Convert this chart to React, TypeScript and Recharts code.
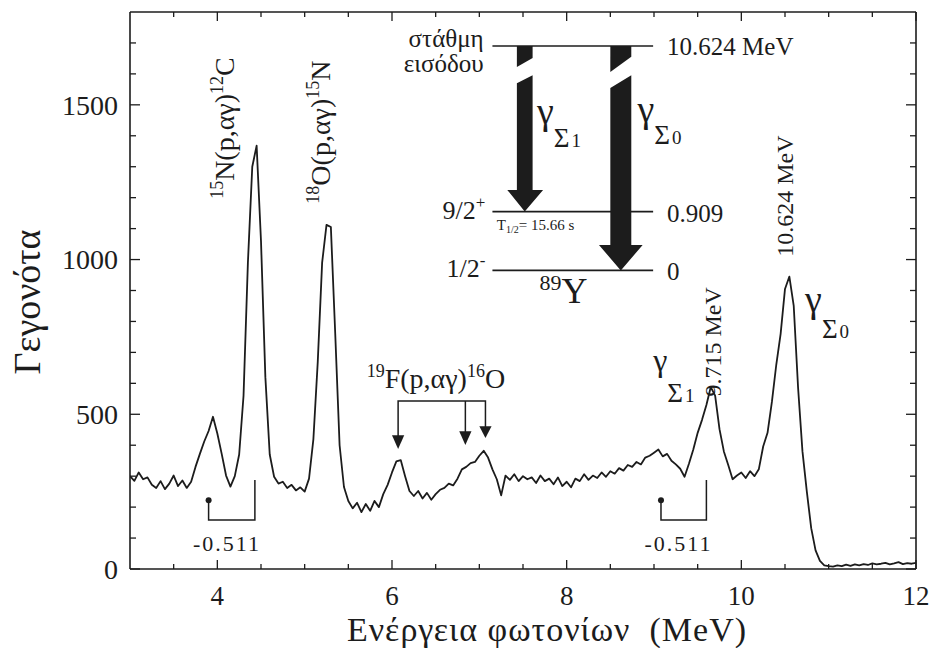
import React from 'react'
import { LineChart, Line, XAxis, YAxis, ReferenceLine, Customized } from 'recharts'

// photon energy of each channel (MeV)
const ENERGY = [
  3.0, 3.05, 3.1, 3.15, 3.2, 3.25, 3.3, 3.35, 3.4, 3.45,
  3.5, 3.55, 3.6, 3.65, 3.7, 3.75, 3.8, 3.85, 3.9, 3.95,
  4.0, 4.05, 4.1, 4.15, 4.2, 4.25, 4.3, 4.35, 4.4, 4.45,
  4.5, 4.55, 4.6, 4.65, 4.7, 4.75, 4.8, 4.85, 4.9, 4.95,
  5.0, 5.05, 5.1, 5.15, 5.2, 5.25, 5.3, 5.35, 5.4, 5.45,
  5.5, 5.55, 5.6, 5.65, 5.7, 5.75, 5.8, 5.85, 5.9, 5.95,
  6.0, 6.05, 6.1, 6.15, 6.2, 6.25, 6.3, 6.35, 6.4, 6.45,
  6.5, 6.55, 6.6, 6.65, 6.7, 6.75, 6.8, 6.85, 6.9, 6.95,
  7.0, 7.05, 7.1, 7.15, 7.2, 7.25, 7.3, 7.35, 7.4, 7.45,
  7.5, 7.55, 7.6, 7.65, 7.7, 7.75, 7.8, 7.85, 7.9, 7.95,
  8.0, 8.05, 8.1, 8.15, 8.2, 8.25, 8.3, 8.35, 8.4, 8.45,
  8.5, 8.55, 8.6, 8.65, 8.7, 8.75, 8.8, 8.85, 8.9, 8.95,
  9.0, 9.05, 9.1, 9.15, 9.2, 9.25, 9.3, 9.35, 9.4, 9.45,
  9.5, 9.55, 9.6, 9.65, 9.7, 9.75, 9.8, 9.85, 9.9, 9.95,
  10.0, 10.05, 10.1, 10.15, 10.2, 10.25, 10.3, 10.35, 10.4, 10.45,
  10.5, 10.55, 10.6, 10.65, 10.7, 10.75, 10.8, 10.85, 10.9, 10.95,
  11.0, 11.05, 11.1, 11.15, 11.2, 11.25, 11.3, 11.35, 11.4, 11.45,
  11.5, 11.55, 11.6, 11.65, 11.7, 11.75, 11.8, 11.85, 11.9, 11.95,
  12.0,
]

// events per channel
const COUNTS = [
  300, 285, 312, 290, 296, 272, 262, 284, 258, 276,
  302, 268, 286, 262, 282, 330, 372, 412, 446, 492,
  438, 372, 302, 266, 300, 370, 560, 990, 1300, 1368,
  1060, 620, 370, 298, 276, 282, 262, 272, 254, 264,
  250, 292, 420, 670, 990, 1112, 1105, 760, 400, 265,
  220, 196, 214, 184, 210, 188, 220, 200, 242, 272,
  312, 348, 352, 300, 252, 236, 252, 228, 246, 224,
  242, 256, 262, 276, 270, 292, 322, 330, 342, 346,
  366, 382, 360, 322, 290, 238, 302, 288, 306, 284,
  300, 290, 296, 278, 302, 284, 292, 274, 296, 268,
  282, 264, 292, 284, 306, 288, 302, 294, 312, 298,
  316, 308, 326, 318, 336, 330, 346, 338, 360, 366,
  376, 386, 364, 372, 350, 338, 324, 298, 340, 386,
  440, 482, 530, 588, 560, 452, 380, 336, 290, 302,
  312, 294, 316, 300, 322, 396, 440, 540, 660, 760,
  905, 945, 850, 585, 380, 250, 132, 60, 26, 12,
  9, 8, 12, 9, 14, 10, 15, 12, 16, 13,
  18, 15, 17, 20, 15, 18, 22, 16, 19, 17,
  20,
]

const X_TICKS = [3.5, 4, 4.5, 5, 5.5, 6, 6.5, 7, 7.5, 8, 8.5, 9, 9.5, 10, 10.5, 11, 11.5, 12]
const X_LABELS = [4, 6, 8, 10, 12]
const Y_TICKS = [0, 100, 200, 300, 400, 500, 600, 700, 800, 900, 1000, 1100, 1200, 1300, 1400, 1500, 1600, 1700]
const Y_LABELS = [0, 500, 1000, 1500]

const X_DOMAIN: [number, number] = [3, 12]
const Y_DOMAIN: [number, number] = [0, 1800]

const W = 935
const H = 648
const MARGIN = { top: 12, right: 19, bottom: 39, left: 70 }
const Y_AXIS_W = 60
const X_AXIS_H = 40
const PLOT_LEFT = MARGIN.left + Y_AXIS_W
const PLOT_TOP = MARGIN.top
const PLOT_W = W - PLOT_LEFT - MARGIN.right
const PLOT_H = H - MARGIN.top - MARGIN.bottom - X_AXIS_H

const INK = '#1c1c1c'
const SERIF = 'Liberation Serif, DejaVu Serif, serif'

const data = ENERGY.map((e, i) => ({ energy: e, counts: COUNTS[i] }))

// data units -> pixels, same geometry as the chart's plot area
const sx = (e: number) => PLOT_LEFT + ((e - X_DOMAIN[0]) / (X_DOMAIN[1] - X_DOMAIN[0])) * PLOT_W
const sy = (c: number) => PLOT_TOP + PLOT_H - ((c - Y_DOMAIN[0]) / (Y_DOMAIN[1] - Y_DOMAIN[0])) * PLOT_H

function XTick(props: any) {
  const { x, y, payload } = props
  const v = payload.value
  const major = X_LABELS.includes(v)
  const len = major ? 9 : 5
  return (
    <g>
      <line x1={x} y1={y} x2={x} y2={y - len} stroke={INK} strokeWidth={1.3} />
      <line x1={x} y1={y - PLOT_H} x2={x} y2={y - PLOT_H + len} stroke={INK} strokeWidth={1.3} />
      {major && (
        <text x={x} y={y + 36} textAnchor="middle" fontSize={27} fontFamily={SERIF} fill={INK}>
          {v}
        </text>
      )}
    </g>
  )
}

function YTick(props: any) {
  const { x, y, payload } = props
  const v = payload.value
  const major = Y_LABELS.includes(v)
  const len = major ? 10 : 6
  return (
    <g>
      <line x1={x} y1={y} x2={x + len} y2={y} stroke={INK} strokeWidth={1.3} />
      <line x1={x + PLOT_W} y1={y} x2={x + PLOT_W - len} y2={y} stroke={INK} strokeWidth={1.3} />
      {major && (
        <text x={x - 12} y={y} dy="0.35em" textAnchor="end" fontSize={28} fontFamily={SERIF} fill={INK}>
          {v}
        </text>
      )}
    </g>
  )
}

const pts = (list: Array<[number, number]>) => list.map(([e, c]) => `${sx(e)},${sy(c)}`).join(' ')

// vertical label, (e, c) = middle of the baseline
function VLabel({ e, c, size, children }: { e: number; c: number; size: number; children: React.ReactNode }) {
  const x = sx(e)
  const y = sy(c)
  return (
    <text x={x} y={y} transform={`rotate(-90 ${x} ${y})`} textAnchor="middle" fontSize={size} fontFamily={SERIF} fill={INK}>
      {children}
    </text>
  )
}

function GammaSigma({ e, c, sub, g = 38, s = 27, d = 19, dy = 24, dx = 0 }: any) {
  return (
    <text x={sx(e)} y={sy(c)} fontSize={g} fontFamily={SERIF} fill={INK}>
      γ
      <tspan fontSize={s} dy={dy} dx={dx}>Σ</tspan>
      <tspan fontSize={d} dx={2}>{sub}</tspan>
    </text>
  )
}

// broken, thick transition arrow of the level scheme
function BrokenArrow({ xl, xr, hl, hr, top, cut, gap, base, tip }: any) {
  const mid = (xl + xr) / 2
  return (
    <g fill={INK}>
      <polygon points={pts([[xl, top], [xr, top], [xr, cut[1]], [xl, cut[0]]])} />
      <polygon
        points={pts([
          [xl, gap[0]], [xr, gap[1]], [xr, base], [hr, base], [mid, tip], [hl, base], [xl, base],
        ])}
      />
    </g>
  )
}

function Bracket511({ eL, eR, label }: { eL: number; eR: number; label: number }) {
  return (
    <g>
      <polyline points={pts([[eR, 288], [eR, 158], [eL, 158], [eL, 213]])} fill="none" stroke={INK} strokeWidth={1.5} />
      <circle cx={sx(eL)} cy={sy(222)} r={3} fill={INK} />
      <text x={sx(label)} y={sy(58)} textAnchor="middle" fontSize={22} letterSpacing={2} fontFamily={SERIF} fill={INK}>
        -0.511
      </text>
    </g>
  )
}

function DownHead({ e, base, tip }: { e: number; base: number; tip: number }) {
  return <polygon points={pts([[e - 0.07, base], [e + 0.07, base], [e, tip]])} fill={INK} />
}

function Annotations() {
  const lv = (c: number) => <line x1={sx(7.15)} x2={sx(8.99)} y1={sy(c)} y2={sy(c)} stroke={INK} strokeWidth={1.6} />
  const txt = { fontFamily: SERIF, fill: INK }
  return (
    <g>
      {/* axis titles */}
      <text x={40} y={302} transform="rotate(-90 40 302)" textAnchor="middle" fontSize={38} {...txt}>
        Γεγονότα
      </text>
      <text x={547} y={641} textAnchor="middle" fontSize={34} letterSpacing={1} {...txt}>
        Ενέργεια φωτονίων{'\u00a0\u00a0'}(MeV)
      </text>

      {/* reaction labels */}
      <VLabel e={4.19} c={1425} size={28}>
        <tspan fontSize={18} dy={-11}>15</tspan>
        <tspan dy={11}>N(p,αγ)</tspan>
        <tspan fontSize={18} dy={-11}>12</tspan>
        <tspan dy={11}>C</tspan>
      </VLabel>
      <VLabel e={5.29} c={1412} size={28}>
        <tspan fontSize={18} dy={-11}>18</tspan>
        <tspan dy={11}>O(p,αγ)</tspan>
        <tspan fontSize={18} dy={-11}>15</tspan>
        <tspan dy={11}>N</tspan>
      </VLabel>
      <text x={sx(5.71)} y={sy(585)} fontSize={28} {...txt}>
        <tspan fontSize={18} dy={-11}>19</tspan>
        <tspan dy={11}>F(p,αγ)</tspan>
        <tspan fontSize={18} dy={-11}>16</tspan>
        <tspan dy={11}>O</tspan>
      </text>

      {/* 19F bracket with three arrows */}
      <polyline points={pts([[6.07, 427], [6.07, 543], [7.07, 543], [7.07, 456]])} fill="none" stroke={INK} strokeWidth={1.5} />
      <polyline points={pts([[6.84, 543], [6.84, 440]])} fill="none" stroke={INK} strokeWidth={1.5} />
      <DownHead e={6.07} base={432} tip={388} />
      <DownHead e={6.84} base={445} tip={401} />
      <DownHead e={7.07} base={461} tip={423} />

      {/* escape peak markers */}
      <Bracket511 eL={3.9} eR={4.43} label={4.11} />
      <Bracket511 eL={9.08} eR={9.6} label={9.28} />

      {/* peak labels */}
      <VLabel e={9.77} c={734} size={24}>9.715 MeV</VLabel>
      <VLabel e={10.59} c={1205} size={24}>10.624 MeV</VLabel>
      <GammaSigma e={8.99} c={640} sub="1" g={32} dy={31} />
      <GammaSigma e={10.73} c={830} sub="0" dy={26} />

      {/* level scheme of 89Y */}
      {lv(1690)}
      {lv(1155)}
      {lv(965)}
      <text x={sx(7.05)} y={sy(1687)} textAnchor="end" fontSize={25} {...txt}>στάθμη</text>
      <text x={sx(7.05)} y={sy(1606)} textAnchor="end" fontSize={25} {...txt}>εισόδου</text>
      <text x={sx(7.07)} y={sy(1131)} textAnchor="end" fontSize={26} {...txt}>
        9/2<tspan fontSize={17} dy={-11}>+</tspan>
      </text>
      <text x={sx(7.07)} y={sy(944)} textAnchor="end" fontSize={26} {...txt}>
        1/2<tspan fontSize={17} dy={-11}>-</tspan>
      </text>
      <text x={sx(9.15)} y={sy(1661)} fontSize={25} {...txt}>10.624 MeV</text>
      <text x={sx(9.15)} y={sy(1121)} fontSize={25} {...txt}>0.909</text>
      <text x={sx(9.15)} y={sy(934)} fontSize={25} {...txt}>0</text>
      <text x={sx(7.2)} y={sy(1095)} fontSize={15} {...txt}>
        T<tspan fontSize={10} dy={3}>1/2</tspan>
        <tspan dy={-3}>= 15.66 s</tspan>
      </text>
      <text x={sx(7.69)} y={sy(860)} fontSize={36} {...txt}>
        <tspan fontSize={22} dy={-13}>89</tspan>
        <tspan dy={13}>Y</tspan>
      </text>

      <BrokenArrow xl={7.43} xr={7.61} hl={7.32} hr={7.73} top={1690} cut={[1622, 1651]} gap={[1570, 1596]} base={1225} tip={1155} />
      <BrokenArrow xl={8.5} xr={8.74} hl={8.37} hr={8.87} top={1690} cut={[1606, 1655]} gap={[1554, 1596]} base={1047} tip={965} />
      <GammaSigma e={7.66} c={1438} sub="1" dy={23} />
      <GammaSigma e={8.81} c={1445} sub="0" dy={22} />
    </g>
  )
}

export default function App() {
  return (
    <div style={{ position: 'absolute', left: 0, top: 0, width: W, height: H, background: '#fff' }}>
      <LineChart width={W} height={H} data={data} margin={MARGIN}>
        <XAxis
          dataKey="energy"
          type="number"
          domain={X_DOMAIN}
          ticks={X_TICKS}
          interval={0}
          allowDataOverflow
          height={X_AXIS_H}
          tickSize={0}
          tickMargin={0}
          tickLine={false}
          tick={<XTick />}
          axisLine={{ stroke: INK, strokeWidth: 1.6 }}
        />
        <YAxis
          type="number"
          domain={Y_DOMAIN}
          ticks={Y_TICKS}
          interval={0}
          allowDataOverflow
          width={Y_AXIS_W}
          tickSize={0}
          tickMargin={0}
          tickLine={false}
          tick={<YTick />}
          axisLine={{ stroke: INK, strokeWidth: 1.6 }}
        />
        <ReferenceLine y={Y_DOMAIN[1]} stroke={INK} strokeWidth={1.6} />
        <ReferenceLine x={X_DOMAIN[1]} stroke={INK} strokeWidth={1.6} />
        <Line
          type="linear"
          dataKey="counts"
          stroke={INK}
          strokeWidth={1.8}
          strokeLinejoin="round"
          dot={false}
          isAnimationActive={false}
        />
        <Customized component={<Annotations />} />
      </LineChart>
    </div>
  )
}
